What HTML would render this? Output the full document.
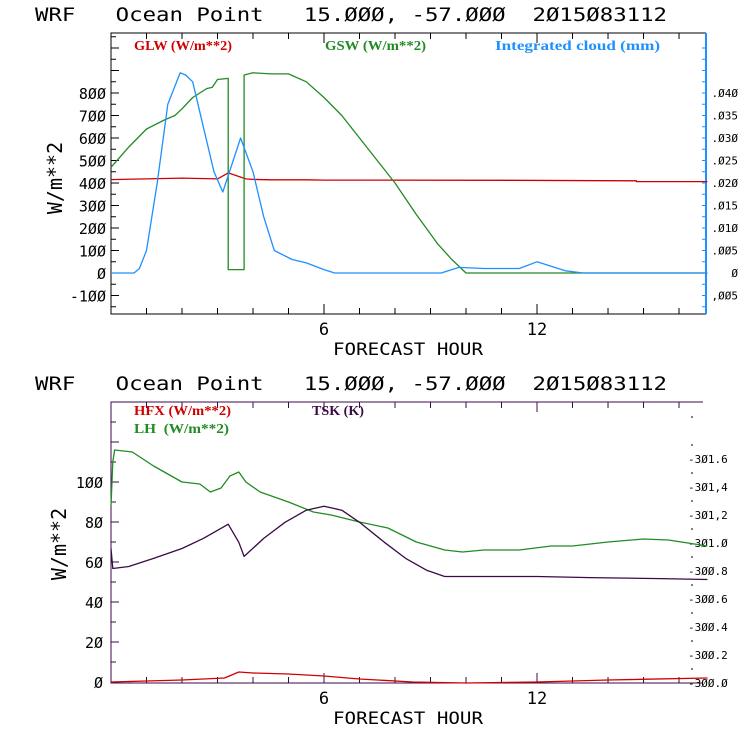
<!DOCTYPE html>
<html><head><meta charset="utf-8"><style>
html,body{margin:0;padding:0;background:#fff;}
svg{display:block;}
text{font-family:"DejaVu Sans Mono","Liberation Mono",monospace;white-space:pre;}
.leg{font-family:"Liberation Serif",serif;font-weight:bold;font-size:14px;}
</style></head><body>
<svg id="c" width="740" height="740" xmlns="http://www.w3.org/2000/svg"></svg>
<script>
// ---------- data ----------
const gswHours=[0,0.5,1,1.5,1.8,2,2.3,2.5,2.7,2.85,3.0,3.3,3.3,3.75,3.75,4.0,4.5,5,5.5,6,6.5,7,7.6,8,8.6,9.2,9.6,10,16.8];
const gswVals=[470,560,640,680,700,730,780,800,820,825,860,865,15,15,880,890,885,885,850,780,700,600,480,400,260,130,60,0,0];
const glwHours=[0,1,2,3,3.3,3.8,4.0,4.5,5.5,6,11.3,14.8,14.8,16.8];
const glwVals=[415,418,422,418,445,418,416,414,414,413,412,410,406,406];
const cloudHours=[0,0.65,0.8,1.0,1.3,1.6,1.95,2.1,2.3,2.6,2.9,3.15,3.4,3.65,4.0,4.3,4.6,5.1,5.5,6.0,6.3,9.3,9.8,10.5,11.5,12.0,12.4,12.8,13.3,16.8];
const cloudMm=[0,0,0.001,0.005,0.02,0.0375,0.0445,0.0440,0.0425,0.0325,0.0225,0.018,0.024,0.030,0.0225,0.0125,0.005,0.003,0.00225,0.00075,0,0,0.00125,0.001,0.001,0.0025,0.0015,0.0005,0,0];
const lhHours=[0,0.05,0.1,0.6,1.2,2.0,2.5,2.8,3.1,3.35,3.6,3.8,4.2,5,5.7,6.2,7,7.8,8.6,9.4,9.9,10.5,11.5,12.4,13,14,15,15.7,16.8];
const lhVals=[88,110,116,115,108,100,99,95,97,103,105,100,95,90,85,83.5,80,77,70,66,65,66,66,68,68,70,71.5,71,68];
const tskHours=[0,0.05,0.5,1.2,2,2.6,3.2,3.3,3.6,3.75,4.3,4.9,5.5,6.0,6.5,7,7.7,8.3,8.9,9.4,12,13.5,15.5,16.8];
const tskVals=[300.96,300.818,300.832,300.890,300.961,301.033,301.119,301.134,301.005,300.904,301.033,301.148,301.234,301.263,301.234,301.148,301.005,300.890,300.804,300.761,300.761,300.753,300.746,300.739];
const hfxHours=[0,1,2,3.2,3.6,4,5,6,7,8.5,10,12,14,16.8];
const hfxVals=[0,0.5,1,2,5,4.5,4,3,1.5,0,-0.5,0,1,2];
const rightTicks1=[-0.005,0,0.005,0.010,0.015,0.020,0.025,0.030,0.035,0.040];
const rightLabels1=[",005","0",".005",".010",".015",".020",".025",".030",".035",".040"];
const rightTicks2=[300.0,300.2,300.4,300.6,300.8,301.0,301.2,301.4,301.6];
const rightLabels2=["300.0","300.2","300.4","300.6","300.8","301.0","301,2","301,4","301.6"];
const leftTicks1=[-100,0,100,200,300,400,500,600,700,800];
const leftTicks2=[0,20,40,60,80,100];
const xLabels=[6,12];

const svg=document.getElementById('c');
const NS='http://www.w3.org/2000/svg';
function el(tag,attrs,parent){const e=document.createElementNS(NS,tag);for(const k in attrs)e.setAttribute(k,attrs[k]);(parent||svg).appendChild(e);return e;}
const X0=111,X1=706,XMAX=16.76;
const sx=h=>X0+h*(X1-X0)/XMAX;
function fmt(n){return String(n).replace(/0/g,'Ø');}
const TITLE='WRF   Ocean Point   15.ØØØ, -57.ØØØ  2Ø15Ø83112';

// ---------- chart 1 ----------
const T1=33,B1=314;
const y1=v=>273-(v)*0.225;
const yr1=v=>273-v*4500;
let t=el('text',{x:35,y:21,'font-size':19,fill:'#000',textLength:632,lengthAdjust:'spacingAndGlyphs'});

t.textContent=TITLE;
let g=el('g',{});
let p=el('path',{d:`M${X1},${T1}H${X0}V${B1}H${X1}`,stroke:'#000',fill:'none','stroke-width':1},g);

p=el('line',{x1:X1,y1:T1,x2:X1,y2:B1,stroke:'#1e90ff','stroke-width':2},g);

for(let h=1;h<XMAX;h++){const L=(h%6==0)?10:6;
 el('line',{x1:sx(h),y1:B1,x2:sx(h),y2:B1-L,stroke:'#000'},g);el('line',{x1:sx(h),y1:T1,x2:sx(h),y2:T1+L,stroke:'#000'},g);}
for(let v=-150;v<1100;v+=50){const yy=y1(v);if(yy<T1||yy>B1)continue;el('line',{x1:X0,y1:yy,x2:X0+(v%100==0?8:5),y2:yy,stroke:'#000'},g);}
leftTicks1.forEach(v=>{const e=el('text',{x:X0-5,y:y1(v)+6,'font-size':15,'text-anchor':'end',fill:'#000'},g);e.textContent=fmt(v);});
for(let v=-0.0075;v<0.052;v+=0.0025){const yy=yr1(v);if(yy<T1||yy>B1)continue;el('line',{x1:X1,y1:yy,x2:X1-4,y2:yy,stroke:'#1e90ff'},g);}
rightTicks1.forEach((v,i)=>{const e=el('text',{x:X1+32,y:yr1(v)+4,'font-size':11,'text-anchor':'end',fill:'#000'},g);e.textContent=fmt(rightLabels1[i]);});
xLabels.forEach(h=>{const e=el('text',{x:sx(h),y:B1+21,'font-size':17,'text-anchor':'middle',fill:'#000'},g);e.textContent=h;});
let e=el('text',{x:333,y:355,'font-size':17,fill:'#000',textLength:150,lengthAdjust:'spacingAndGlyphs'},g);e.textContent='FORECAST HOUR';
e=el('text',{x:0,y:0,'font-size':20,'text-anchor':'middle',fill:'#000',transform:'translate(62,178) rotate(-90)'},g);e.textContent='W/m**2';
function line(hs,vs,fy,color,name,parent){const d=hs.map((h,i)=>(i?'L':'M')+sx(h).toFixed(1)+','+fy(vs[i]).toFixed(1)).join('');const q=el('path',{d,stroke:color,fill:'none','stroke-width':1.3,'stroke-linejoin':'round'},parent);}
line(glwHours,glwVals,y1,'#d00000','glw-line',g);
line(gswHours,gswVals,y1,'#228b22','gsw-line',g);
line(cloudHours,cloudMm,yr1,'#1e90ff','cloud-line',g);
[['GLW (W/m**2)',134,98,'#d00000','glw-legend'],['GSW (W/m**2)',325,101,'#228b22','gsw-legend'],['Integrated cloud (mm)',495,165,'#1e90ff','cloud-legend']].forEach(a=>{const q=el('text',{x:a[1],y:50,fill:a[3],class:'leg',textLength:a[2],lengthAdjust:'spacingAndGlyphs'},g);q.textContent=a[0];});

// ---------- chart 2 ----------
const T2=402,B2=683,X1b=703;
const y2=v=>682-v*2;
const yr2=v=>683-(v-300)*140;
t=el('text',{x:35,y:390,'font-size':19,fill:'#000',textLength:632,lengthAdjust:'spacingAndGlyphs'});

t.textContent=TITLE;
g=el('g',{});
p=el('path',{d:`M${X1b},${T2}H${X0}V${B2}H${X1b}`,stroke:'#3a0a45',fill:'none','stroke-width':1},g);

for(let h=1;h<XMAX;h++){const L=(h%6==0)?10:6;
 el('line',{x1:sx(h),y1:B2,x2:sx(h),y2:B2-L,stroke:'#3a0a45'},g);el('line',{x1:sx(h),y1:T2,x2:sx(h),y2:T2+L,stroke:'#3a0a45'},g);}
for(let v=0;v<=140;v+=10){el('line',{x1:X0,y1:y2(v),x2:X0+(v%20==0?8:5),y2:y2(v),stroke:'#3a0a45'},g);}
leftTicks2.forEach(v=>{const q=el('text',{x:X0-8,y:y2(v)+6,'font-size':15,'text-anchor':'end',fill:'#000'},g);q.textContent=fmt(v);});
for(let v=300.1;v<302;v+=0.2){const yy=yr2(v);if(yy<T2+8)continue;el('line',{x1:691,y1:yy,x2:693,y2:yy,stroke:'#000'},g);}
rightTicks2.forEach((v,i)=>{const q=el('text',{x:688,y:yr2(v)+4,'font-size':11,fill:'#000'},g);q.textContent='-'+fmt(rightLabels2[i]);});
xLabels.forEach(h=>{const q=el('text',{x:sx(h),y:B2+21,'font-size':17,'text-anchor':'middle',fill:'#000'},g);q.textContent=h;});
e=el('text',{x:333,y:724,'font-size':17,fill:'#000',textLength:150,lengthAdjust:'spacingAndGlyphs'},g);e.textContent='FORECAST HOUR';
e=el('text',{x:0,y:0,'font-size':20,'text-anchor':'middle',fill:'#000',transform:'translate(66,544) rotate(-90)'},g);e.textContent='W/m**2';
line(hfxHours,hfxVals,y2,'#d00000','hfx-line',g);
line(lhHours,lhVals,y2,'#228b22','lh-line',g);
line(tskHours,tskVals,yr2,'#3a0a45','tsk-line',g);
[['HFX (W/m**2)',134,415,97,'#d00000','hfx-legend'],['LH  (W/m**2)',134,433,95,'#228b22','lh-legend'],['TSK (K)',312,415,52,'#3a0a45','tsk-legend']].forEach(a=>{const q=el('text',{x:a[1],y:a[2],fill:a[4],class:'leg',textLength:a[3],lengthAdjust:'spacingAndGlyphs'},g);q.textContent=a[0];});
</script>
</body></html>
